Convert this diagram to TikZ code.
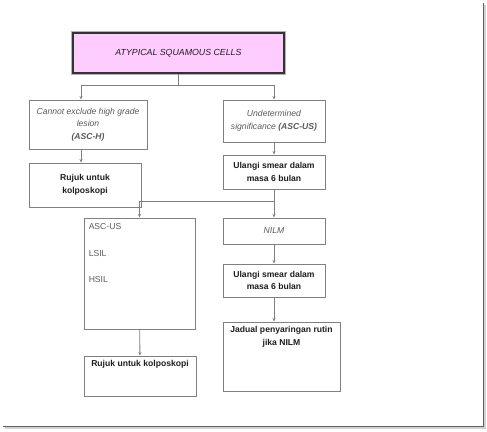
\documentclass[tikz,border=0pt]{standalone}
\usepackage{fontspec}
\setmainfont{Liberation Sans}
\usetikzlibrary{arrows.meta,positioning}
\definecolor{boxline}{RGB}{128,128,128}
\definecolor{pinkfill}{RGB}{255,204,255}
\definecolor{softtext}{RGB}{90,90,90}
\definecolor{darktext}{RGB}{30,30,30}

\begin{document}
\begin{tikzpicture}[x=1pt,y=-1pt,
  font=\fontsize{8.6}{12.5}\selectfont,
  box/.style={draw=boxline,line width=0.9pt,fill=white,inner sep=0pt,
    minimum width=#1,align=center},
  box/.default=102,
  arr/.style={draw=boxline,line width=0.8pt,-{Stealth[length=3.5pt,width=3pt]}},
  lin/.style={draw=boxline,line width=0.8pt},
  soft/.style={text=softtext,font=\fontsize{8.6}{12.5}\selectfont\itshape},
  hard/.style={text=darktext,align=center,font=\fontsize{8.6}{12.5}\selectfont\bfseries}]

\useasboundingbox (0,0) rectangle (487,431);

% frame with shadow
\draw[gray!35,line width=2pt] (5,428) -- (485,428) -- (485,5);
\draw[gray!75!black,line width=0.9pt] (3,426) -- (483,426) -- (483,3);

% top box
\draw[gray!60,line width=3.2pt] (73,33) rectangle (284,73);
\node[box=211,minimum height=40,fill=pinkfill,draw=black!80,line width=1.6pt,
  text=darktext,font=\fontsize{8.8}{12.5}\selectfont\itshape]
  (asc) at (178.5,53) {ATYPICAL SQUAMOUS CELLS};

% first level
\node[box=118,minimum height=49,soft] (asch) at (88,124.5)
  {Cannot exclude high grade\\lesion\\\textbf{(ASC-H)}};
\node[box,minimum height=42,soft] (ascus) at (274,121)
  {Undetermined\\significance \textbf{(ASC-US)}};

% second level
\node[box=112,minimum height=44,hard] (rujukA) at (85,185) {Rujuk untuk\\kolposkopi};
\node[box,minimum height=34,hard] (ulangiA) at (274,172) {Ulangi smear dalam\\masa 6 bulan};

% third level
\node[box=111,minimum height=111] (lesi) at (139.5,273.5) {};
\node[text=softtext,anchor=north west,align=left,inner sep=0pt]
  at ([shift={(5pt,-6pt)}]lesi.north west)
  {ASC-US\\[14pt]LSIL\\[14pt]HSIL};
\node[box,minimum height=26,soft] (nilm) at (274,231) {NILM};
\node[box,minimum height=33,hard] (ulangiB) at (274,280.5) {Ulangi smear dalam\\masa 6 bulan};

% last level
\node[box=112,minimum height=40] (rujukB) at (140,376) {};
\node[hard,anchor=north,inner sep=0pt] at ([yshift=-5pt]rujukB.north) {Rujuk untuk kolposkopi};
\node[box=117,minimum height=69] (jadual) at (281.5,356.5) {};
\node[hard,anchor=north,inner sep=0pt] at ([yshift=-5pt]jadual.north)
  {Jadual penyaringan rutin\\jika NILM};

% connectors
\coordinate (splitA) at (178.5,85);
\coordinate (splitL) at (81,85);
\draw[lin] (asc.south) -- (splitA);
\draw[lin] (splitL) -- (splitA -| ascus.north);
\draw[arr] (splitL) -- (splitL |- asch.north);
\draw[arr] (splitA -| ascus.north) -- (ascus.north);
\draw[arr] (asch.south -| splitL) -- (rujukA.north -| splitL);
\draw[arr] (ascus) -- (ulangiA);

\coordinate (splitB) at (274,201);
\draw[lin] (ulangiA.south) -- (splitB) -- (splitB -| lesi.north);
\draw[arr] (splitB -| lesi.north) -- (lesi.north);
\draw[arr] (splitB) -- (nilm.north);
\draw[arr] (nilm) -- (ulangiB);
\draw[arr] (ulangiB.south) -- (ulangiB.south |- jadual.north);
\draw[arr] (lesi) -- (rujukB);

\end{tikzpicture}
\end{document}
